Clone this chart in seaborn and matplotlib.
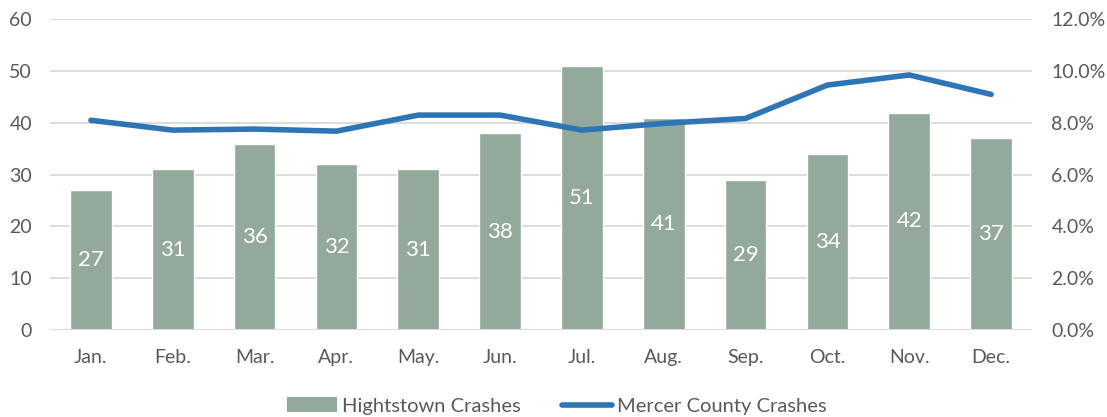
import numpy as np
import pandas as pd
import matplotlib
matplotlib.use("Agg")
import matplotlib.pyplot as plt
import seaborn as sns
from matplotlib.patches import Patch
from matplotlib.lines import Line2D
from matplotlib.ticker import FuncFormatter

months = ["Jan.", "Feb.", "Mar.", "Apr.", "May.", "Jun.", "Jul.", "Aug.", "Sep.", "Oct.", "Nov.", "Dec."]
hightstown = [27, 31, 36, 32, 31, 38, 51, 41, 29, 34, 42, 37]
mercer_pct = [8.1, 7.72, 7.76, 7.68, 8.3, 8.3, 7.72, 7.98, 8.17, 9.46, 9.85, 9.1]

bar_color = "#93A99B"
line_color = "#2E75B6"
text_color = "#595959"
grid_color = "#D9D9D9"

sns.set_theme(style="white")
plt.rcParams["font.family"] = ["Lato", "DejaVu Sans"]

df = pd.DataFrame({"month": months, "crashes": hightstown, "pct": mercer_pct})

W, H = 1107, 417
fig = plt.figure(figsize=(W / 100, H / 100), dpi=100)
left, right, top, bottom = 50, 1032, 19.3, 330
ax = fig.add_axes([left / W, 1 - bottom / H, (right - left) / W, (bottom - top) / H])

sns.barplot(data=df, x="month", y="crashes", color=bar_color, width=0.51,
            saturation=1, ax=ax, zorder=2)
ax.set_ylim(0, 60)
ax.set_yticks(np.arange(0, 61, 10))
ax.set_xlim(-0.5, len(months) - 0.5)
ax.set_xlabel("")
ax.set_ylabel("")
for y in np.arange(10, 61, 10):
    ax.axhline(y, color=grid_color, lw=1.3, zorder=0)
ax.axhline(0, color=grid_color, lw=1.5, zorder=3)
for s in ax.spines.values():
    s.set_visible(False)
ax.tick_params(axis="both", length=0, colors=text_color, labelsize=14)
ax.tick_params(axis="x", pad=14)
ax.tick_params(axis="y", pad=13)

for i, v in enumerate(hightstown):
    ax.text(i, v / 2, str(v), ha="center", va="center", color="white",
            fontsize=16, zorder=4)

ax2 = ax.twinx()
sns.lineplot(x=np.arange(len(months)), y=mercer_pct, color=line_color,
             linewidth=4, ax=ax2, zorder=5)
ax2.set_ylim(0, 12)
ax2.set_yticks(np.arange(0, 12.1, 2))
ax2.yaxis.set_major_formatter(FuncFormatter(lambda v, _: f"{v:.1f}%"))
ax2.set_xlim(-0.5, len(months) - 0.5)
for s in ax2.spines.values():
    s.set_visible(False)
ax2.tick_params(axis="y", length=0, colors=text_color, labelsize=14, pad=14)
ax2.set_ylabel("")

handles = [Patch(facecolor=bar_color, edgecolor="none", label="Hightstown Crashes"),
           Line2D([0], [0], color=line_color, lw=4, label="Mercer County Crashes")]
leg = fig.legend(handles=handles, loc="center", bbox_to_anchor=(0.503, 1 - 406 / H),
                 ncol=2, frameon=False, fontsize=14.5, handlelength=2.5,
                 handletextpad=0.25, columnspacing=2.0)
for t in leg.get_texts():
    t.set_color(text_color)

fig.savefig("out.png", dpi=100)
